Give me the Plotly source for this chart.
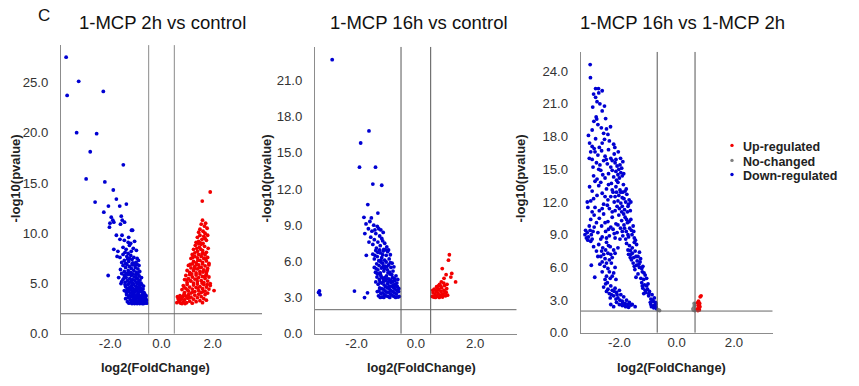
import plotly.graph_objects as go

# ---------------- data ----------------
titles = ["1-MCP 2h vs control", "1-MCP 16h vs control", "1-MCP 16h vs 1-MCP 2h"]
legend_labels = ["Up-regulated", "No-changed", "Down-regulated"]
x_tickvals = [-2, 0, 2]
x_ticktext = ["-2.0", "0.0", "2.0"]
y1_tickvals = [0, 5, 10, 15, 20, 25]
y1_ticktext = ["0.0", "5.0", "10.0", "15.0", "20.0", "25.0"]
y2_tickvals = [0, 3, 6, 9, 12, 15, 18, 21]
y2_ticktext = ["0.0", "3.0", "6.0", "9.0", "12.0", "15.0", "18.0", "21.0"]
y3_tickvals = [0, 3, 6, 9, 12, 15, 18, 21, 24]
y3_ticktext = ["0.0", "3.0", "6.0", "9.0", "12.0", "15.0", "18.0", "21.0", "24.0"]
fc_thresholds = [[-0.5, 0.5], [-0.5, 0.5], [-0.68, 0.64]]
p_threshold = 2.0

# panel 1: 1-MCP 2h vs control  (log2FC, -log10 p)
p1_down = [
    (-3.72, 27.5), (-3.68, 23.7), (-3.23, 25.1), (-2.27, 24.1), (-3.31, 20.0), (-2.53, 19.9),
    (-2.78, 18.1), (-1.49, 16.8), (-2.94, 15.4), (-2.21, 15.1), (-1.88, 14.3), (-1.76, 13.4),
    (-2.59, 13.1), (-2.07, 12.7), (-1.37, 12.9), (-1.63, 12.7), (-2.25, 12.1), (-1.96, 11.6),
    (-1.90, 11.3), (-2.01, 11.0), (-2.03, 10.6), (-1.86, 11.1), (-1.57, 11.7), (-1.53, 11.3),
    (-1.60, 10.9), (-1.44, 11.1), (-1.13, 10.3), (-2.08, 5.8), (-1.76, 9.8), (-1.86, 8.4),
    (-1.54, 9.8), (-1.28, 9.6), (-1.17, 10.3), (-1.73, 7.7), (-1.67, 5.6), (-1.58, 5.0),
    (-1.45, 9.3), (-1.30, 9.1), (-1.62, 9.4), (-1.20, 9.0), (-1.05, 9.2),
    (-1.70, 8.2), (-1.50, 8.6), (-1.38, 8.4), (-1.25, 8.8), (-1.10, 8.5), (-1.42, 8.1),
    (-1.30, 8.0), (-0.98, 8.3), (-1.18, 8.2),
    (-1.62, 7.6), (-1.50, 7.9), (-1.45, 7.3), (-1.35, 7.7), (-1.28, 7.2), (-1.20, 7.8),
    (-1.15, 7.4), (-1.08, 7.6), (-1.00, 7.1), (-0.95, 7.5), (-1.40, 7.0), (-1.55, 7.1),
    (-1.25, 7.5), (-1.32, 7.45), (-1.12, 7.05), (-0.90, 7.3),
    (-1.60, 6.4), (-1.50, 6.8), (-1.45, 6.2), (-1.40, 6.6), (-1.35, 6.9), (-1.30, 6.3),
    (-1.25, 6.7), (-1.20, 6.1), (-1.18, 6.5), (-1.12, 6.85), (-1.08, 6.3), (-1.02, 6.6),
    (-0.98, 6.1), (-0.92, 6.45), (-0.88, 6.8), (-0.85, 6.2), (-1.38, 6.0), (-1.28, 6.05),
    (-1.15, 6.95), (-1.55, 6.0), (-1.05, 6.9), (-0.95, 6.9),
    (-1.50, 5.4), (-1.45, 5.8), (-1.42, 5.1), (-1.38, 5.6), (-1.33, 5.3), (-1.30, 5.9),
    (-1.27, 5.05), (-1.24, 5.5), (-1.20, 5.2), (-1.18, 5.8), (-1.14, 5.4), (-1.10, 5.0),
    (-1.07, 5.65), (-1.04, 5.3), (-1.00, 5.9), (-0.97, 5.1), (-0.94, 5.5), (-0.90, 5.2),
    (-0.87, 5.75), (-0.84, 5.35), (-0.80, 5.05), (-0.78, 5.6), (-1.35, 5.95), (-1.22, 5.95),
    (-1.12, 5.95), (-0.92, 5.95), (-1.55, 5.2), (-1.47, 5.5), (-1.16, 5.1), (-0.98, 5.6),
    (-0.86, 5.0),
    (-1.45, 4.3), (-1.40, 4.7), (-1.37, 4.1), (-1.34, 4.5), (-1.30, 4.9), (-1.28, 4.2),
    (-1.25, 4.6), (-1.22, 4.05), (-1.20, 4.4), (-1.17, 4.8), (-1.14, 4.2), (-1.12, 4.55),
    (-1.09, 4.9), (-1.06, 4.1), (-1.04, 4.4), (-1.01, 4.75), (-0.98, 4.25), (-0.96, 4.6),
    (-0.93, 4.95), (-0.90, 4.1), (-0.88, 4.45), (-0.85, 4.8), (-0.83, 4.2), (-0.80, 4.55),
    (-0.77, 4.9), (-0.75, 4.15), (-0.72, 4.45), (-0.70, 4.75), (-0.68, 4.1), (-1.32, 4.35),
    (-1.18, 4.65), (-1.08, 4.3), (-0.95, 4.35), (-0.86, 4.6), (-0.78, 4.35), (-1.42, 4.9),
    (-1.40, 3.5), (-1.36, 3.9), (-1.33, 3.2), (-1.30, 3.6), (-1.27, 3.05), (-1.25, 3.8),
    (-1.22, 3.4), (-1.19, 3.1), (-1.17, 3.7), (-1.14, 3.3), (-1.12, 3.95), (-1.09, 3.5),
    (-1.07, 3.1), (-1.04, 3.8), (-1.02, 3.35), (-0.99, 3.6), (-0.97, 3.05), (-0.95, 3.9),
    (-0.92, 3.25), (-0.90, 3.55), (-0.88, 3.85), (-0.86, 3.15), (-0.84, 3.45), (-0.82, 3.75),
    (-0.80, 3.05), (-0.78, 3.3), (-0.76, 3.6), (-0.74, 3.9), (-0.72, 3.15), (-0.70, 3.4),
    (-0.68, 3.7), (-0.66, 3.05), (-0.64, 3.3), (-0.62, 3.55), (-0.60, 3.1), (-0.58, 3.35),
    (-0.57, 3.05), (-0.60, 3.8), (-0.65, 3.95), (-0.70, 3.02), (-0.75, 3.02), (-0.85, 3.02),
    (-0.95, 3.02), (-1.05, 3.02), (-1.15, 3.02), (-0.81, 3.55), (-0.93, 3.7), (-1.00, 3.2),
    (-1.10, 3.7), (-0.63, 3.75), (-0.73, 3.55), (-0.89, 3.3),
]
p1_up = [
    (1.90, 14.1), (1.59, 13.2),
    (1.60, 11.3), (1.55, 10.9), (1.68, 10.7), (1.72, 11.0), (1.50, 10.4), (1.62, 10.2),
    (1.78, 10.5), (1.45, 10.1), (1.70, 10.0),
    (1.40, 9.6), (1.50, 9.8), (1.58, 9.4), (1.65, 9.7), (1.75, 9.3), (1.80, 9.8), (1.35, 9.1),
    (1.45, 9.2), (1.62, 9.0), (1.70, 9.5), (1.52, 9.05),
    (1.25, 8.4), (1.32, 8.8), (1.40, 8.2), (1.48, 8.6), (1.55, 8.9), (1.60, 8.3), (1.68, 8.7),
    (1.75, 8.1), (1.82, 8.5), (1.30, 8.05), (1.45, 8.95), (1.38, 8.5), (1.62, 8.05), (1.53, 8.4),
    (1.15, 7.5), (1.20, 7.9), (1.25, 7.2), (1.30, 7.7), (1.35, 7.05), (1.40, 7.55), (1.45, 7.9),
    (1.50, 7.3), (1.55, 7.7), (1.60, 7.1), (1.65, 7.5), (1.70, 7.85), (1.75, 7.25), (1.80, 7.6),
    (1.85, 7.0), (1.22, 7.6), (1.42, 7.3), (1.58, 7.95), (1.72, 7.45),
    (1.00, 6.3), (1.05, 6.8), (1.10, 6.1), (1.15, 6.55), (1.20, 6.95), (1.25, 6.3), (1.30, 6.7),
    (1.35, 6.05), (1.40, 6.45), (1.45, 6.85), (1.50, 6.2), (1.55, 6.6), (1.60, 6.95), (1.65, 6.35),
    (1.70, 6.75), (1.75, 6.1), (1.80, 6.5), (1.85, 6.85), (1.12, 6.9), (1.28, 6.5), (1.48, 6.6),
    (1.62, 6.15), (1.78, 6.3), (1.38, 6.9),
    (0.90, 5.4), (0.95, 5.8), (1.00, 5.1), (1.05, 5.5), (1.10, 5.9), (1.15, 5.25), (1.20, 5.65),
    (1.25, 5.05), (1.30, 5.45), (1.35, 5.85), (1.40, 5.2), (1.45, 5.6), (1.50, 5.95), (1.55, 5.3),
    (1.60, 5.7), (1.65, 5.1), (1.70, 5.5), (1.75, 5.9), (1.80, 5.25), (1.85, 5.65), (1.90, 5.0),
    (0.98, 5.35), (1.18, 5.95), (1.38, 5.45), (1.58, 5.05), (1.72, 5.75), (1.12, 5.3),
    (0.80, 4.4), (0.85, 4.8), (0.90, 4.1), (0.95, 4.5), (1.00, 4.9), (1.05, 4.25), (1.10, 4.65),
    (1.15, 4.05), (1.20, 4.45), (1.25, 4.85), (1.30, 4.2), (1.35, 4.6), (1.40, 4.95), (1.45, 4.3),
    (1.50, 4.7), (1.55, 4.1), (1.60, 4.5), (1.65, 4.9), (1.70, 4.25), (1.75, 4.65), (1.80, 4.05),
    (1.85, 4.45), (1.90, 4.8), (0.88, 4.65), (1.02, 4.35), (1.22, 4.15), (1.42, 4.55), (1.62, 4.2),
    (1.78, 4.9), (2.05, 4.3),
    (0.60, 3.1), (0.65, 3.5), (0.70, 3.2), (0.72, 3.8), (0.75, 3.05), (0.78, 3.45), (0.82, 3.7),
    (0.85, 3.15), (0.88, 3.95), (0.90, 3.4), (0.95, 3.75), (0.98, 3.1), (1.02, 3.55), (1.05, 3.9),
    (1.10, 3.25), (1.15, 3.65), (1.20, 3.05), (1.25, 3.45), (1.30, 3.85), (1.35, 3.2), (1.40, 3.6),
    (1.45, 3.95), (1.50, 3.3), (1.55, 3.7), (1.60, 3.1), (1.65, 3.5), (1.70, 3.9), (1.75, 3.35),
    (0.68, 3.3), (0.80, 3.02), (0.92, 3.02), (1.08, 3.6), (0.62, 3.7), (0.75, 3.6),
]

# panel 2: 1-MCP 16h vs control
p2_down = [
    (-2.82, 22.7), (-1.58, 16.8), (-1.86, 15.8), (-1.90, 13.8), (-1.36, 13.8), (-1.45, 12.4),
    (-1.15, 12.3), (-1.62, 10.7), (-1.28, 10.0), (-1.75, 9.65), (-1.50, 9.6), (-3.28, 3.43),
    (-3.23, 3.24), (-3.25, 3.55), (-2.07, 3.54), (-1.63, 3.4), (-1.73, 3.0), (-1.67, 6.5),
    (-1.72, 8.3),
    (-1.68, 9.1), (-1.55, 9.3), (-1.42, 9.0), (-1.30, 8.9), (-1.18, 8.6), (-1.60, 8.7),
    (-1.48, 8.5), (-1.35, 8.3), (-1.22, 8.1), (-1.10, 8.4), (-1.52, 8.0), (-1.40, 7.8),
    (-1.28, 7.6), (-1.15, 7.9), (-1.05, 7.5), (-1.45, 7.4), (-1.33, 7.1), (-1.20, 7.3),
    (-1.08, 7.0), (-0.98, 7.2), (-1.58, 7.6), (-1.38, 8.6), (-1.25, 8.7), (-1.12, 7.7),
    (-1.45, 6.6), (-1.40, 6.2), (-1.35, 6.9), (-1.30, 6.4), (-1.25, 6.05), (-1.20, 6.7),
    (-1.15, 6.3), (-1.10, 6.85), (-1.05, 6.1), (-1.00, 6.5), (-0.95, 6.8), (-0.90, 6.2),
    (-0.86, 6.55), (-1.38, 6.5), (-1.22, 6.95), (-1.12, 6.55), (-1.02, 6.95), (-0.92, 6.95),
    (-1.28, 6.75), (-1.18, 6.1),
    (-1.40, 5.5), (-1.36, 5.1), (-1.32, 5.8), (-1.28, 5.3), (-1.24, 5.65), (-1.20, 5.05),
    (-1.16, 5.45), (-1.12, 5.85), (-1.08, 5.2), (-1.04, 5.6), (-1.00, 5.95), (-0.96, 5.3),
    (-0.92, 5.7), (-0.88, 5.1), (-0.84, 5.5), (-0.80, 5.85), (-0.77, 5.2), (-0.74, 5.55),
    (-1.30, 5.0), (-1.18, 5.95), (-1.06, 5.4), (-0.94, 5.05), (-0.86, 5.9), (-1.34, 5.4),
    (-1.10, 5.6), (-0.98, 5.55),
    (-1.35, 4.3), (-1.31, 4.7), (-1.27, 4.1), (-1.23, 4.5), (-1.19, 4.9), (-1.15, 4.2),
    (-1.11, 4.6), (-1.07, 4.05), (-1.03, 4.4), (-0.99, 4.8), (-0.95, 4.15), (-0.91, 4.55),
    (-0.87, 4.95), (-0.83, 4.25), (-0.79, 4.65), (-0.75, 4.05), (-0.71, 4.4), (-0.67, 4.8),
    (-0.64, 4.2), (-0.61, 4.5), (-1.29, 4.95), (-1.17, 4.75), (-1.05, 4.65), (-0.93, 4.3),
    (-0.81, 4.9), (-0.73, 4.6), (-1.21, 4.3), (-1.09, 4.35), (-0.97, 4.55), (-0.85, 4.45),
    (-0.69, 4.1), (-0.77, 4.35),
    (-1.30, 3.5), (-1.26, 3.15), (-1.22, 3.8), (-1.18, 3.35), (-1.14, 3.05), (-1.10, 3.7),
    (-1.06, 3.25), (-1.02, 3.9), (-0.98, 3.45), (-0.94, 3.1), (-0.90, 3.75), (-0.86, 3.3),
    (-0.82, 3.95), (-0.78, 3.5), (-0.74, 3.1), (-0.70, 3.7), (-0.66, 3.3), (-0.62, 3.9),
    (-0.58, 3.5), (-0.56, 3.1), (-0.60, 3.05), (-0.64, 3.6), (-0.68, 3.02), (-0.72, 3.4),
    (-0.76, 3.85), (-0.80, 3.2), (-0.84, 3.6), (-0.88, 3.02), (-0.92, 3.45), (-0.96, 3.8),
    (-1.00, 3.15), (-1.04, 3.55), (-1.08, 3.02), (-1.12, 3.4), (-1.16, 3.75), (-1.20, 3.02),
    (-1.24, 3.55), (-0.57, 3.75), (-0.70, 3.95), (-0.90, 3.95),
]
p2_up = [
    (1.13, 6.55), (1.10, 6.1), (0.89, 5.4), (1.21, 5.0), (1.34, 4.3), (1.18, 4.7), (1.02, 4.9),
    (0.95, 4.6),
    (0.55, 3.1), (0.58, 3.4), (0.60, 3.05), (0.62, 3.7), (0.65, 3.25), (0.68, 3.5), (0.70, 3.9),
    (0.72, 3.1), (0.75, 3.35), (0.78, 3.65), (0.80, 4.1), (0.82, 3.2), (0.85, 3.5), (0.87, 3.8),
    (0.90, 3.05), (0.92, 3.3), (0.95, 3.6), (0.97, 4.0), (1.00, 3.15), (1.02, 3.45), (1.04, 3.75),
    (0.74, 3.75), (0.84, 3.95), (0.94, 4.2), (0.66, 3.02), (0.79, 3.02), (0.88, 3.25), (0.99, 3.4),
    (0.71, 3.55), (0.57, 3.6), (1.07, 3.2), (0.77, 4.0), (0.86, 4.3), (1.05, 4.1),
]

# panel 3: 1-MCP 16h vs 1-MCP 2h
p3_down = [
    (-3.02, 24.6), (-3.01, 23.4), (-2.83, 22.4), (-2.73, 22.4), (-2.60, 22.2), (-2.72, 22.0),
    (-2.83, 21.6), (-2.93, 20.7), (-2.60, 20.35), (-2.78, 21.2),
    (-2.90, 21.9), (-2.68, 21.0), (-2.52, 20.8), (-2.75, 19.1), (-2.95, 18.6), (-2.45, 18.7),
    (-2.35, 17.6),
    (-2.81, 19.8), (-2.79, 19.6), (-2.89, 19.4), (-2.48, 19.65), (-2.63, 18.8), (-2.31, 18.9),
    (-2.55, 18.3), (-2.40, 18.2), (-3.08, 18.1), (-2.83, 17.8), (-2.52, 17.75), (-3.04, 17.4),
    (-2.95, 17.1), (-2.70, 17.0), (-2.88, 16.9), (-2.20, 17.3), (-2.16, 17.0), (-2.60, 17.4),
    (-3.00, 16.6),
    (-2.85, 16.6), (-2.75, 16.3), (-2.62, 16.7), (-2.50, 16.2), (-2.38, 16.8), (-2.95, 15.9),
    (-2.80, 15.6), (-2.68, 15.4), (-2.55, 15.8), (-2.42, 15.5), (-2.30, 15.2), (-2.15, 15.6),
    (-2.08, 15.3), (-2.02, 15.0), (-1.98, 15.4), (-2.12, 14.8), (-2.05, 14.5), (-1.95, 14.7),
    (-2.20, 14.3), (-2.38, 14.6), (-2.50, 14.2), (-2.65, 14.9), (-2.90, 14.4), (-2.78, 14.1),
    (-2.00, 14.2), (-1.90, 14.4), (-2.10, 14.0), (-3.04, 13.4), (-2.30, 16.0), (-1.88, 15.7),
    (-3.05, 16.0), (-2.92, 15.2), (-2.72, 15.0), (-2.58, 14.5), (-2.46, 15.9), (-2.25, 15.8),
    (-2.18, 16.4), (-2.12, 15.9), (-1.96, 16.0), (-1.92, 15.1), (-2.04, 16.6), (-2.25, 14.9),
    (-1.85, 14.6), (-2.85, 13.9),
    (-3.00, 12.1), (-2.90, 12.3), (-2.85, 11.5), (-2.72, 13.5), (-2.60, 12.8), (-2.55, 11.8),
    (-2.45, 13.2), (-2.40, 12.2), (-2.35, 11.4), (-2.28, 13.7), (-2.22, 12.9), (-2.18, 12.0),
    (-2.12, 13.4), (-2.08, 11.6), (-2.02, 12.6), (-1.98, 13.1), (-1.95, 11.9), (-1.90, 12.4),
    (-1.86, 13.6), (-1.82, 11.3), (-1.78, 12.0), (-1.74, 12.7), (-1.70, 11.6), (-1.66, 12.2),
    (-1.62, 11.2), (-2.30, 12.5), (-2.15, 11.2), (-2.05, 13.8), (-1.92, 11.1), (-1.80, 13.0),
    (-2.50, 12.5), (-2.70, 11.2), (-3.10, 11.5), (-2.95, 13.0), (-2.25, 11.1), (-1.88, 12.9),
    (-2.00, 11.4), (-1.72, 11.1),
    (-2.78, 12.6), (-2.65, 13.8), (-2.38, 13.6), (-2.25, 13.1), (-2.15, 12.5), (-2.05, 12.1),
    (-1.95, 12.9), (-1.84, 12.3), (-1.76, 13.2), (-1.68, 11.8), (-1.60, 12.0), (-2.42, 11.7),
    (-2.60, 11.4), (-1.90, 11.6), (-2.10, 12.9), (-2.95, 11.1), (-3.12, 12.0),
    (-3.20, 9.0), (-3.12, 9.2), (-3.08, 8.8), (-3.02, 9.4), (-2.98, 9.0), (-2.95, 8.6),
    (-3.05, 9.8), (-3.15, 8.7), (-2.92, 9.3), (-3.00, 10.4), (-2.88, 10.8), (-2.70, 10.5),
    (-2.62, 9.8), (-2.55, 10.9), (-2.48, 9.3), (-2.40, 10.2), (-2.35, 8.9), (-2.30, 9.7),
    (-2.25, 10.6), (-2.18, 9.1), (-2.12, 10.0), (-2.60, 8.8), (-2.02, 10.8), (-1.96, 9.6),
    (-1.92, 10.3), (-1.88, 8.9), (-1.84, 9.9), (-1.80, 10.6), (-1.76, 9.3), (-1.72, 10.1),
    (-1.68, 8.8), (-1.64, 9.6), (-1.60, 10.4), (-1.56, 9.0), (-1.52, 9.8), (-1.48, 8.7),
    (-1.85, 10.9), (-2.08, 9.2), (-1.70, 9.0), (-1.78, 8.6),
    (-3.18, 9.4), (-3.10, 8.5), (-3.00, 8.4), (-2.88, 9.7), (-2.80, 10.1), (-2.75, 9.2),
    (-2.65, 8.6), (-2.50, 10.1), (-2.45, 8.7), (-2.38, 9.5), (-2.22, 9.5), (-2.15, 8.7),
    (-2.05, 9.9), (-1.98, 8.6), (-1.90, 9.3), (-1.82, 9.6), (-1.75, 10.4), (-1.66, 10.2),
    (-1.58, 9.4), (-1.50, 9.3), (-1.44, 8.5),
    (-2.80, 7.5), (-2.72, 8.1), (-2.65, 7.0), (-2.58, 7.8), (-2.50, 6.8), (-2.45, 8.3),
    (-2.40, 7.3), (-2.32, 7.9), (-2.25, 6.9), (-2.20, 7.6), (-2.55, 7.2), (-2.35, 6.7),
    (-1.75, 8.2), (-1.70, 7.6), (-1.65, 8.0), (-1.60, 7.2), (-1.55, 7.8), (-1.50, 6.9),
    (-1.45, 7.5), (-1.40, 8.1), (-1.35, 7.0), (-1.30, 7.4), (-1.26, 6.8), (-1.58, 6.7),
    (-1.48, 8.3), (-1.62, 7.55),
    (-2.90, 7.9), (-2.75, 7.0), (-2.62, 7.5), (-2.48, 7.6), (-2.38, 8.0), (-2.30, 7.2),
    (-2.15, 7.3), (-2.05, 7.8), (-2.60, 6.5), (-2.45, 6.4), (-2.35, 5.6), (-2.25, 5.2),
    (-1.68, 7.2), (-1.55, 7.3), (-1.42, 7.0), (-1.38, 6.6), (-1.32, 6.3), (-1.22, 5.9),
    (-1.14, 5.5), (-1.05, 5.0), (-1.48, 6.1), (-1.62, 6.9),
    (-2.98, 6.2), (-2.86, 5.1), (-2.68, 6.3), (-2.60, 5.6), (-2.52, 6.1), (-2.45, 5.2),
    (-2.40, 5.9), (-2.32, 5.0), (-2.28, 6.4), (-2.20, 5.5), (-2.12, 4.9), (-2.50, 4.9),
    (-2.15, 6.0), (-1.52, 6.4), (-1.46, 5.8), (-1.40, 6.2), (-1.35, 5.4), (-1.30, 6.0),
    (-1.25, 5.0), (-1.20, 5.6), (-1.15, 4.9), (-1.10, 5.3), (-1.42, 5.1), (-1.28, 6.5),
    (-1.18, 6.1),
    (-2.48, 4.5), (-2.40, 4.0), (-2.35, 3.6), (-2.30, 4.3), (-2.25, 3.9), (-2.20, 3.4),
    (-2.15, 4.1), (-2.10, 3.7), (-2.05, 3.2), (-2.00, 3.9), (-1.95, 3.5), (-1.90, 2.9),
    (-1.85, 3.3), (-1.80, 2.7), (-1.75, 3.0), (-1.70, 2.6), (-1.65, 2.8), (-2.20, 2.4),
    (-2.00, 2.6), (-1.90, 2.5), (-1.60, 2.55), (-1.45, 2.4), (-2.12, 3.1), (-2.32, 3.2),
    (-2.42, 4.6), (-1.82, 2.5),
    (-2.55, 4.2), (-2.45, 3.8), (-2.28, 3.5), (-2.18, 3.8), (-2.08, 3.5), (-1.98, 3.0),
    (-1.88, 2.7), (-1.78, 2.4), (-1.68, 2.35), (-1.55, 2.6), (-2.10, 2.8), (-2.30, 2.6),
    (-1.22, 4.6), (-1.18, 4.1), (-1.12, 4.4), (-1.08, 3.7), (-1.02, 4.0), (-0.98, 3.4),
    (-0.95, 3.8), (-0.90, 3.1), (-0.86, 3.5), (-0.82, 2.9), (-0.78, 3.2), (-0.75, 2.6),
    (-0.72, 2.4), (-0.70, 2.2), (-0.74, 2.8), (-0.80, 2.5), (-0.92, 2.8), (-1.00, 4.5),
    (-1.15, 3.6), (-0.88, 2.4),
    (-1.20, 4.3), (-1.05, 4.3), (-1.10, 3.9), (-0.97, 3.6), (-0.90, 2.6), (-0.84, 3.0),
    (-0.80, 2.3), (-0.76, 2.45), (-0.72, 2.65),
]
p3_nochange = [
    (-0.64, 2.1), (-0.60, 2.05), (0.58, 2.1), (0.60, 2.3), (0.62, 2.5), (0.57, 2.2),
    (0.63, 2.05), (0.61, 2.7),
]
p3_up = [
    (0.72, 2.2), (0.75, 2.5), (0.78, 2.3), (0.80, 2.7), (0.76, 2.9), (0.82, 3.3), (0.85, 3.4),
    (0.74, 2.05), (0.79, 2.1), (0.77, 2.6), (0.81, 2.4), (0.73, 2.75),
]

# ---------------- styling ----------------
W = 859
H_REF = 386          # height of the reference picture (layout below is measured in it)
H = 395              # figure height (photographed area is slightly taller than the window)
FONT = "Liberation Sans, Arial, sans-serif"
RED = "#f20000"
GRAY = "#7f7f7f"
BLUE = "#0000d2"
AXIS_COLOR = "#8c8c8c"
MS = 3.8


def py(v):
    """reference pixel row -> paper fraction"""
    return 1 - v / H_REF


x_ranges = [[-3.92, 3.92], [-3.4, 3.4], [-3.35, 3.35]]
y_ranges = [[0, 28.7], [0, 23.76], [0, 25.77]]
x_domains = [[61 / W, 262 / W], [315 / W, 516.7 / W], [580.7 / W, 772.7 / W]]
y_domains = [[py(333), py(45)], [py(333), py(46.7)], [py(332), py(51.7)]]
y_ticks = [(y1_tickvals, y1_ticktext), (y2_tickvals, y2_ticktext), (y3_tickvals, y3_ticktext)]

fig = go.Figure()


def add_pts(pts, color, i):
    xs = [p[0] for p in pts]
    ys = [p[1] for p in pts]
    sfx = "" if i == 0 else str(i + 1)
    fig.add_trace(go.Scatter(
        x=xs, y=ys, mode="markers", xaxis="x" + sfx, yaxis="y" + sfx,
        marker=dict(color=color, size=MS, line=dict(width=0)),
        showlegend=False, hoverinfo="x+y",
    ))


add_pts(p1_down, BLUE, 0)
add_pts(p1_up, RED, 0)
add_pts(p2_down, BLUE, 1)
add_pts(p2_up, RED, 1)
add_pts(p3_down, BLUE, 2)
add_pts(p3_nochange, GRAY, 2)
add_pts(p3_up, RED, 2)

layout = dict(
    width=W, height=H, margin=dict(l=0, r=0, t=0, b=0),
    paper_bgcolor="white", plot_bgcolor="white",
    font=dict(family=FONT, color="#333333", size=13),
    showlegend=False,
)
shapes = []
annotations = []
for i in range(3):
    sfx = "" if i == 0 else str(i + 1)
    layout["xaxis" + sfx] = dict(
        domain=x_domains[i], range=x_ranges[i], anchor="y" + sfx,
        showgrid=False, zeroline=False, showline=True, linecolor=AXIS_COLOR, linewidth=1,
        ticks="", tickvals=x_tickvals, ticktext=x_ticktext,
        tickfont=dict(size=13.2, color="#333333", family=FONT), ticklabelstandoff=-3,
    )
    layout["yaxis" + sfx] = dict(
        domain=y_domains[i], range=y_ranges[i], anchor="x" + sfx,
        showgrid=False, zeroline=False, showline=True, linecolor=AXIS_COLOR, linewidth=1,
        ticks="", tickvals=y_ticks[i][0], ticktext=y_ticks[i][1],
        tickfont=dict(size=13.2, color="#333333", family=FONT), ticklabelstandoff=9,
    )
    xr = "x" + sfx
    yr = "y" + sfx
    for fc in fc_thresholds[i]:
        shapes.append(dict(type="line", xref=xr, yref=yr, x0=fc, x1=fc,
                           y0=y_ranges[i][0], y1=y_ranges[i][1],
                           line=dict(color="#8a8a8a" if i == 0 else "#555555", width=1)))
    shapes.append(dict(type="line", xref=xr, yref=yr, x0=x_ranges[i][0], x1=x_ranges[i][1],
                       y0=p_threshold, y1=p_threshold, line=dict(color="#666666", width=1)))

# panel titles, axis titles
title_x = [162.5, 418.5, 682]
xlab_x = [155, 421.7, 671.7]
ylab_x = [15, 266, 520]
for i in range(3):
    annotations.append(dict(text=titles[i], x=title_x[i] / W, y=py(22), xref="paper", yref="paper",
                            showarrow=False, xanchor="center", yanchor="middle",
                            font=dict(size=18.5, color="#111111", family=FONT)))
    annotations.append(dict(text="<b>log2(FoldChange)</b>", x=xlab_x[i] / W, y=py(367),
                            xref="paper", yref="paper", showarrow=False,
                            xanchor="center", yanchor="middle",
                            font=dict(size=12.8, color="#222222", family=FONT)))
    annotations.append(dict(text="<b>-log10(pvalue)</b>", x=ylab_x[i] / W, y=py(178),
                            xref="paper", yref="paper", showarrow=False, textangle=-90,
                            xanchor="center", yanchor="middle",
                            font=dict(size=13, color="#222222", family=FONT)))
annotations.append(dict(text="C", x=44 / W, y=py(15), xref="paper", yref="paper",
                        showarrow=False, xanchor="center", yanchor="middle",
                        font=dict(size=17, color="#111111", family=FONT)))

# legend (drawn manually)
leg_colors = [RED, GRAY, BLUE]
leg_y = [147, 162, 176]
for lab, col, yy in zip(legend_labels, leg_colors, leg_y):
    shapes.append(dict(type="circle", xref="paper", yref="paper",
                       x0=(732 - 1.7) / W, x1=(732 + 1.7) / W,
                       y0=py(yy - 1.7 - 2), y1=py(yy + 1.7 - 2),
                       fillcolor=col, line=dict(width=0)))
    annotations.append(dict(text="<b>" + lab + "</b>", x=741 / W, y=py(yy),
                            xref="paper", yref="paper", showarrow=False,
                            xanchor="left", yanchor="middle",
                            font=dict(size=12.5, color="#222222", family=FONT)))

layout["shapes"] = shapes
layout["annotations"] = annotations
fig.update_layout(**layout)
fig.write_html(
    "out.html",
    config={"displayModeBar": False},
    post_script="document.body.style.margin='0px';document.body.style.overflow='hidden';"
                "document.documentElement.style.overflow='hidden';",
)
